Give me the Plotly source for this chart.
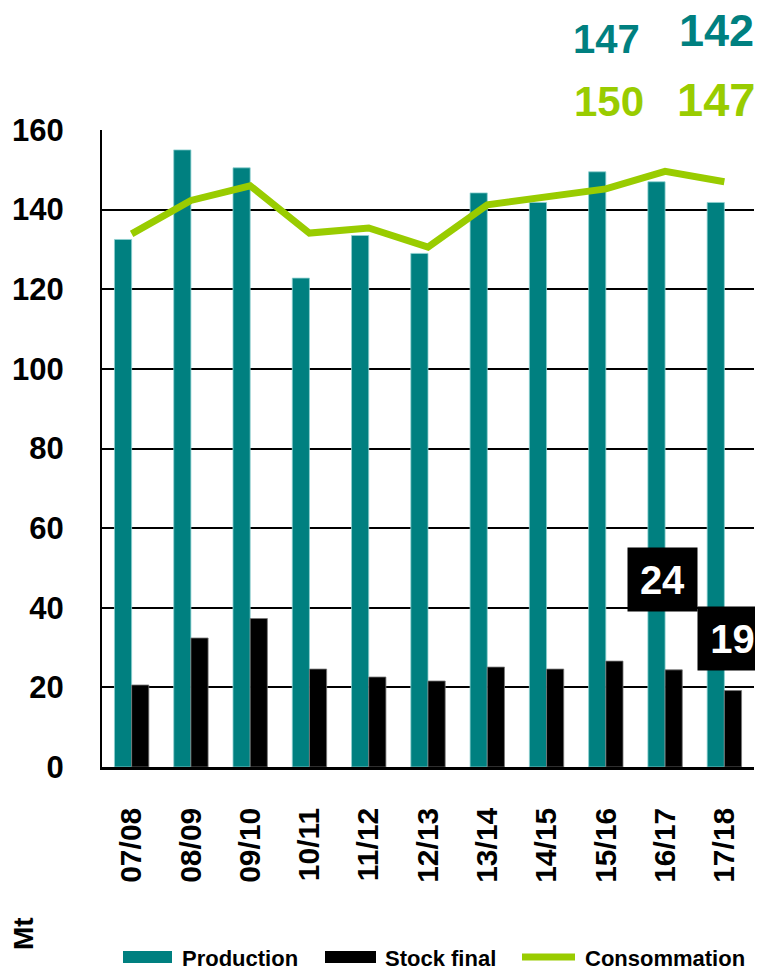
import plotly.graph_objects as go

campagnes = ["07/08", "08/09", "09/10", "10/11", "11/12", "12/13",
             "13/14", "14/15", "15/16", "16/17", "17/18"]
production = [132.5, 155.0, 150.5, 122.8, 133.5, 129.0, 144.2, 141.8, 149.5, 147.0, 141.8]
stock_final = [20.6, 32.4, 37.3, 24.6, 22.6, 21.6, 25.1, 24.6, 26.6, 24.4, 19.2]
consommation = [133.9, 142.3, 146.0, 134.1, 135.4, 130.6, 141.2, 143.0, 145.2, 149.6, 147.0]

# labels shown for the last two seasons
prod_labels = ["147", "142"]
cons_labels = ["150", "147"]
stock_labels = ["24", "19"]

TEAL = "#008080"
GREEN = "#99CC00"
FONT = "Liberation Sans, Arial, sans-serif"

# the page body has an 8px default margin: offset so the chart sits
# where the reference is in the 763x970 window
OFF = 8
W, H = 763 - OFF, 970 - OFF
PLOT_L, PLOT_R, PLOT_T, PLOT_B = 102, 754, 130, 767   # page pixels
L = PLOT_L - OFF
T = PLOT_T - OFF
R = (W + OFF) - PLOT_R
B = (H + OFF) - PLOT_B
PW = PLOT_R - PLOT_L
PH = PLOT_B - PLOT_T


def px_x(px):
    return (px - PLOT_L) / PW


def px_y(py):
    return (PLOT_B - py) / PH


fig = go.Figure()
fig.add_trace(go.Bar(x=campagnes, y=production, name="Production",
                     marker=dict(color=TEAL, line=dict(color="#8fd0d0", width=0.8)),
                     showlegend=False))
fig.add_trace(go.Bar(x=campagnes, y=stock_final, name="Stock final",
                     marker=dict(color="black", line=dict(color="#777777", width=0.8)),
                     showlegend=False))
fig.add_trace(go.Scatter(x=campagnes, y=consommation, name="Consommation",
                         mode="lines", line=dict(color=GREEN, width=7),
                         showlegend=False))

annotations = []


def paper_text(text, px, py, size, color, xanchor="center", angle=0):
    return dict(x=px_x(px), y=px_y(py), xref="paper", yref="paper",
                xanchor=xanchor, yanchor="middle", text=f"<b>{text}</b>",
                showarrow=False, textangle=angle,
                font=dict(family=FONT, size=size, color=color))


# top value labels
annotations.append(paper_text(prod_labels[0], 606, 39, 40, TEAL))
annotations.append(paper_text(prod_labels[1], 716, 31, 45, TEAL))
annotations.append(paper_text(cons_labels[0], 609, 101, 42, GREEN))
annotations.append(paper_text(cons_labels[1], 716, 100, 47, GREEN))

# stock boxed labels
annotations.append(dict(x=campagnes[-2], y=stock_final[-2], xref="x", yref="y",
                        xanchor="center", yanchor="middle",
                        text=f"<b>{stock_labels[0]}</b>", showarrow=False,
                        xshift=-3, yshift=90, width=67, height=61,
                        bgcolor="black",
                        font=dict(family=FONT, size=40, color="white")))
annotations.append(dict(x=campagnes[-1], y=stock_final[-1], xref="x", yref="y",
                        xanchor="center", yanchor="middle",
                        text=f"<b>{stock_labels[1]}</b>", showarrow=False,
                        xshift=8, yshift=52, width=67, height=61,
                        bgcolor="black",
                        font=dict(family=FONT, size=40, color="white")))

# Mt unit
annotations.append(paper_text("Mt", 23, 934, 28, "black", angle=-90))

# custom legend
legend_items = [("Production", 180), ("Stock final", 383), ("Consommation", 583)]
for name, lx in legend_items:
    annotations.append(paper_text(name, lx, 958, 22, "black", xanchor="left"))

shapes = [
    dict(type="rect", xref="paper", yref="paper", x0=px_x(123), x1=px_x(172),
         y0=px_y(963), y1=px_y(951), fillcolor=TEAL, line=dict(width=0)),
    dict(type="rect", xref="paper", yref="paper", x0=px_x(325), x1=px_x(376),
         y0=px_y(963), y1=px_y(951), fillcolor="black", line=dict(width=0)),
    dict(type="line", xref="paper", yref="paper", x0=px_x(522), x1=px_x(575),
         y0=px_y(957), y1=px_y(957), line=dict(color=GREEN, width=7)),
]

fig.update_layout(
    width=W, height=H,
    margin=dict(l=L, r=R, t=T, b=B, pad=0, autoexpand=False),
    paper_bgcolor="white", plot_bgcolor="white",
    barmode="group", bargap=0.42, bargroupgap=0,
    font=dict(family=FONT, color="black"),
    annotations=annotations, shapes=shapes,
    showlegend=False,
)
fig.update_xaxes(
    type="category", tickangle=-90, automargin=False,
    range=[-0.5, len(campagnes) - 0.5],
    tickfont=dict(family=FONT, size=30, color="black", weight="bold"),
    showline=True, linecolor="black", linewidth=2.5,
    showgrid=False, ticks="", ticklabelstandoff=26,
)
fig.update_yaxes(
    range=[0, 160], dtick=20, tick0=0, automargin=False,
    tickfont=dict(family=FONT, size=31, color="black", weight="bold"),
    showline=True, linecolor="black", linewidth=2,
    showgrid=True, gridcolor="black", gridwidth=2,
    zeroline=False, ticks="", ticklabelstandoff=30,
)

fig.write_html("out.html")
